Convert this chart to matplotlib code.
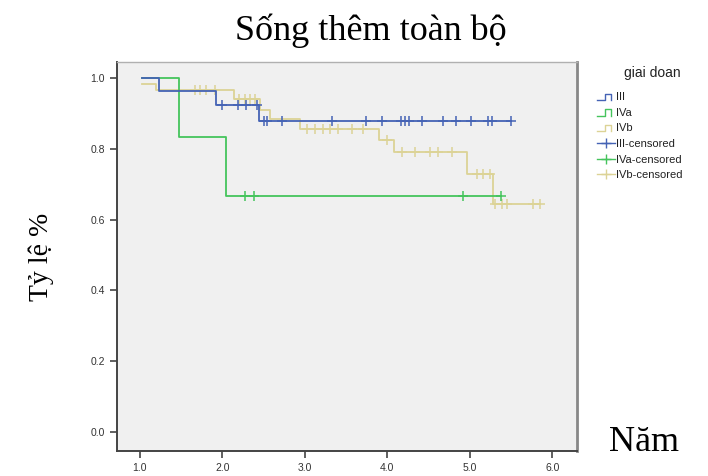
import numpy as np
import matplotlib
matplotlib.use("Agg")
import matplotlib.pyplot as plt
from matplotlib.lines import Line2D
from matplotlib.legend_handler import HandlerBase

# Kaplan-Meier style curves (time in years, survival rate)
III_T = [1.03, 1.23, 1.92, 2.44]
III_S = [1.0, 0.962, 0.925, 0.878]
III_END = 5.50
III_CENS = [2.00, 2.19, 2.29, 2.42, 2.50, 2.54, 2.72, 3.33, 3.74, 3.94, 4.16,
            4.21, 4.26, 4.42, 4.67, 4.83, 5.02, 5.22, 5.27, 5.50]

IVA_T = [1.03, 1.47, 2.04]
IVA_S = [1.0, 0.833, 0.667]
IVA_END = 5.38
IVA_CENS = [2.27, 2.38, 4.92, 5.38]

IVB_T = [1.03, 1.20, 2.14, 2.46, 2.58, 2.94, 3.90, 4.08, 4.97, 5.28]
IVB_S = [0.983, 0.966, 0.940, 0.910, 0.884, 0.857, 0.825, 0.791, 0.730, 0.645]
IVB_END = 5.85
IVB_CENS = [1.67, 1.73, 1.80, 1.91, 2.20, 2.27, 2.33, 2.40, 3.03, 3.12, 3.22,
            3.31, 3.40, 3.57, 3.71, 4.00, 4.18, 4.34, 4.52, 4.62, 4.79, 5.09,
            5.16, 5.24, 5.31, 5.39, 5.45, 5.77, 5.85]

GROUPS = ["III", "IVa", "IVb"]
COLORS = {"III": "#4563b5", "IVa": "#45c45c", "IVb": "#dcd396"}

X_TICKS = [1.0, 2.0, 3.0, 4.0, 5.0, 6.0]
Y_TICKS = [0.0, 0.2, 0.4, 0.6, 0.8, 1.0]


def surv_at(t, times, surv):
  idx = np.searchsorted(times, t, side="right") - 1
  return surv[max(idx, 0)]


class StepHandler(HandlerBase):
  """Legend icon shaped like a small step."""
  def create_artists(self, legend, orig_handle, xdescent, ydescent, width, height, fontsize, trans):
    x0 = -xdescent
    y0, y1 = -ydescent + 0.05 * height, -ydescent + 0.85 * height
    xs = [x0, x0 + 0.45 * width, x0 + 0.45 * width, x0 + 0.8 * width, x0 + 0.8 * width]
    ys = [y0, y0, y1, y1, y0]
    ln = Line2D(xs, ys, color=orig_handle.get_color(), lw=1.0, transform=trans)
    return [ln]


def main():
  fig = plt.figure(figsize=(7.08, 4.76), dpi=100, facecolor='w')
  ax = fig.add_axes([0.165, 0.0525, 0.650, 0.817])
  ax.set_facecolor('#f0f0f0')

  data = {
    "III": (III_T, III_S, III_END, III_CENS),
    "IVa": (IVA_T, IVA_S, IVA_END, IVA_CENS),
    "IVb": (IVB_T, IVB_S, IVB_END, IVB_CENS),
  }

  # draw IVb first so the others sit on top
  for g in ["IVb", "IVa", "III"]:
    t, s, end, cens = data[g]
    ax.step(t + [end], s + [s[-1]], where='post', color=COLORS[g], lw=1.3)
    cy = [surv_at(c, t, s) for c in cens]
    ax.plot(cens, cy, linestyle='none', marker='+', markersize=7,
            markeredgewidth=1.1, color=COLORS[g])

  ax.set_xlim(0.72, 6.30)
  ax.set_ylim(-0.054, 1.045)
  ax.set_xticks(X_TICKS)
  ax.set_xticklabels(['{:.1f}'.format(v) for v in X_TICKS])
  ax.set_yticks(Y_TICKS)
  ax.set_yticklabels(['{:.1f}'.format(v) for v in Y_TICKS])
  ax.tick_params(axis='both', direction='out', length=5, width=1.2, color='#444444',
                 labelsize=7.5, labelcolor='#333333')
  for lbl in ax.get_xticklabels() + ax.get_yticklabels():
    lbl.set_family('Liberation Sans')

  for side in ['left', 'bottom']:
    ax.spines[side].set_color('#444444')
    ax.spines[side].set_linewidth(1.4)
  ax.spines['top'].set_color('#b0b0b0')
  ax.spines['top'].set_linewidth(1.0)
  ax.spines['right'].set_color('#888888')
  ax.spines['right'].set_linewidth(2.0)

  fig.text(0.524, 0.935, "Sống thêm toàn bộ", ha='center', va='center',
           fontsize=26, family='Liberation Serif')
  fig.text(0.058, 0.46, "Tỷ lệ %", ha='center', va='center', rotation=90,
           fontsize=20, family='Liberation Serif')
  fig.text(0.909, 0.07, "Năm", ha='center', va='center',
           fontsize=26, family='Liberation Serif')

  fig.text(0.921, 0.846, "giai doan", ha='center', va='center',
           fontsize=10, family='Liberation Sans', color='#222222')

  handles = [Line2D([], [], color=COLORS[g]) for g in GROUPS]
  handles += [Line2D([], [], color=COLORS[g], marker='+', markersize=7, lw=1.0)
              for g in GROUPS]
  labels = GROUPS + [g + "-censored" for g in GROUPS]
  handler_map = {h: StepHandler() for h in handles[:3]}
  leg = fig.legend(handles, labels, handler_map=handler_map, loc='upper left',
                   bbox_to_anchor=(0.843, 0.806), frameon=False,
                   prop={'family': 'Liberation Sans', 'size': 8},
                   handlelength=1.6, handletextpad=0.15, labelspacing=0.5,
                   borderaxespad=0.0, borderpad=0.0)
  for txt in leg.get_texts():
    txt.set_color('#222222')

  fig.savefig("out.png", dpi=100, facecolor='w')
  plt.close()


if __name__ == "__main__":
  main()
